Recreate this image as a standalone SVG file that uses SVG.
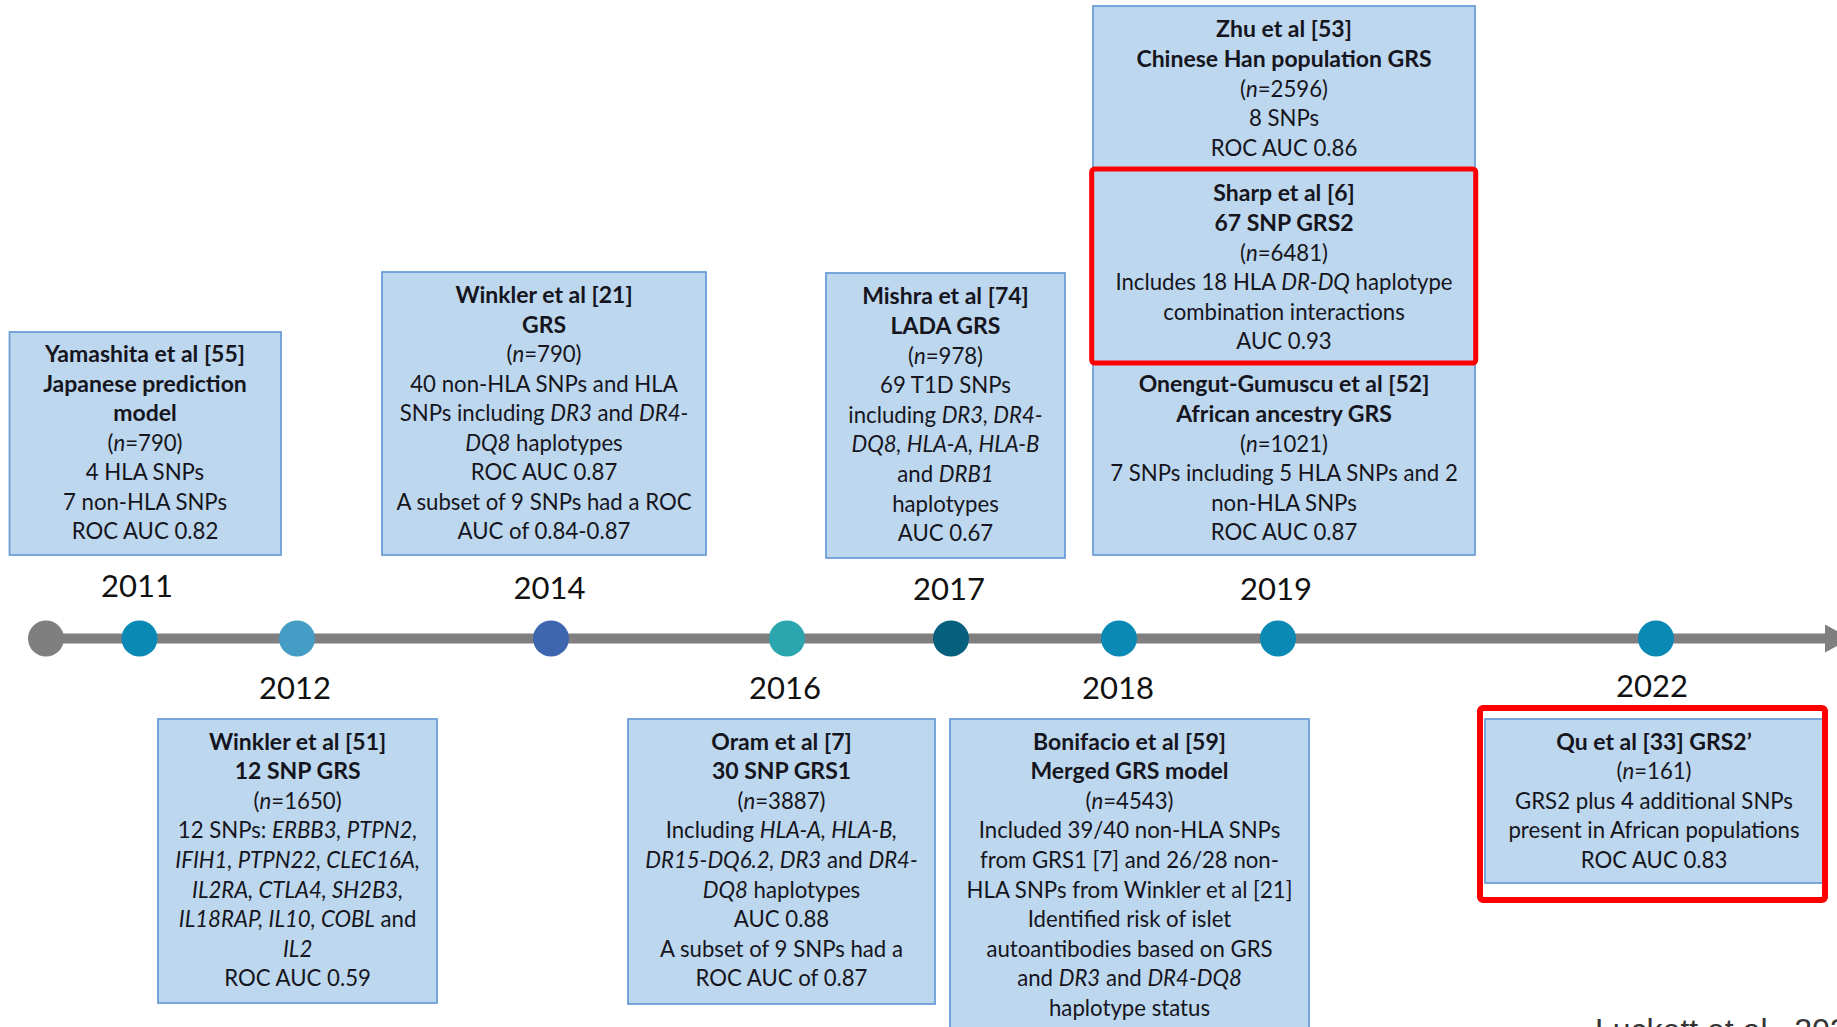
<svg xmlns="http://www.w3.org/2000/svg" width="1837" height="1027" viewBox="0 0 1837 1027">
<style>
.box{fill:#BDD7EE;stroke:#6D9ED6;stroke-width:1.8}
.hl{fill:none;stroke:#FF0000;stroke-width:6}
text{font-family:Lato,"Open Sans","Liberation Sans",sans-serif;font-size:22.2px;fill:#151520;text-anchor:middle}
.b{font-weight:bold;font-size:23px}
.i{font-style:italic}
.yr{font-size:31px;fill:#111}
.src{font-family:"Liberation Sans",Arial,sans-serif;font-size:32px;text-anchor:start;fill:#333}
.tl{stroke:#7F7F7F;stroke-width:10;fill:none}
</style>
<defs>
<marker id="arr" markerUnits="userSpaceOnUse" markerWidth="30" markerHeight="30" refX="0" refY="14" orient="auto" viewBox="0 0 30 30">
<path d="M0,0 L26,14 L0,28 Z" fill="#7F7F7F"/>
</marker>
</defs>

<g id="connectors">
<line class="tl" x1="46" y1="638.5" x2="1825" y2="638.5" marker-end="url(#arr)"/>
</g>

<g id="timeline-points">
<circle cx="46" cy="638.5" r="18" fill="#7F7F7F"/>
<circle cx="139.5" cy="638.5" r="18" fill="#0A89B4"/>
<circle cx="297" cy="638.5" r="18" fill="#459CC4"/>
<circle cx="551" cy="638.5" r="18" fill="#3E66AF"/>
<circle cx="787" cy="638.5" r="18" fill="#2BA6AF"/>
<circle cx="951" cy="638.5" r="18" fill="#075F7E"/>
<circle cx="1119" cy="638.5" r="18" fill="#0A89B4"/>
<circle cx="1278" cy="638.5" r="18" fill="#0A89B4"/>
<circle cx="1656" cy="638.5" r="18" fill="#0A89B4"/>
</g>

<g id="years">
<text class="yr" x="137" y="597">2011</text>
<text class="yr" x="295" y="699">2012</text>
<text class="yr" x="549.5" y="599">2014</text>
<text class="yr" x="785" y="699">2016</text>
<text class="yr" x="949" y="600">2017</text>
<text class="yr" x="1118" y="699">2018</text>
<text class="yr" x="1276" y="600">2019</text>
<text class="yr" x="1652" y="697">2022</text>
</g>

<g id="yamashita">
<rect class="box" x="9.5" y="332" width="271.5" height="223"/>
<text class="b" x="145" y="362">Yamashita et al [55]</text>
<text class="b" x="145" y="391.5">Japanese prediction</text>
<text class="b" x="145" y="421">model</text>
<text x="145" y="450.5">(<tspan class="i">n</tspan>=790)</text>
<text x="145" y="480">4 HLA SNPs</text>
<text x="145" y="509.5">7 non-HLA SNPs</text>
<text x="145" y="539">ROC AUC 0.82</text>
</g>

<g id="winkler21">
<rect class="box" x="382" y="272" width="324" height="283"/>
<text class="b" x="544" y="303">Winkler et al [21]</text>
<text class="b" x="544" y="332.5">GRS</text>
<text x="544" y="362">(<tspan class="i">n</tspan>=790)</text>
<text x="544" y="391.5">40 non-HLA SNPs and HLA</text>
<text x="544" y="421">SNPs including <tspan class="i">DR3</tspan> and <tspan class="i">DR4-</tspan></text>
<text x="544" y="450.5"><tspan class="i">DQ8</tspan> haplotypes</text>
<text x="544" y="480">ROC AUC 0.87</text>
<text x="544" y="509.5">A subset of 9 SNPs had a ROC</text>
<text x="544" y="539">AUC of 0.84-0.87</text>
</g>

<g id="mishra">
<rect class="box" x="826" y="273" width="239" height="285"/>
<text class="b" x="945.5" y="304.4">Mishra et al [74]</text>
<text class="b" x="945.5" y="334">LADA GRS</text>
<text x="945.5" y="363.6">(<tspan class="i">n</tspan>=978)</text>
<text x="945.5" y="393.2">69 T1D SNPs</text>
<text x="945.5" y="422.8">including <tspan class="i">DR3, DR4-</tspan></text>
<text x="945.5" y="452.4"><tspan class="i">DQ8, HLA-A, HLA-B</tspan></text>
<text x="945.5" y="482">and <tspan class="i">DRB1</tspan></text>
<text x="945.5" y="511.6">haplotypes</text>
<text x="945.5" y="541.2">AUC 0.67</text>
</g>

<g id="zhu">
<rect class="box" x="1093" y="6" width="382" height="164"/>
<text class="b" x="1284" y="37.3">Zhu et al [53]</text>
<text class="b" x="1284" y="66.9">Chinese Han population GRS</text>
<text x="1284" y="96.5">(<tspan class="i">n</tspan>=2596)</text>
<text x="1284" y="126.1">8 SNPs</text>
<text x="1284" y="155.7">ROC AUC 0.86</text>
</g>

<g id="onengut">
<rect class="box" x="1093" y="363" width="382" height="192"/>
<text class="b" x="1284" y="392.3">Onengut-Gumuscu et al [52]</text>
<text class="b" x="1284" y="421.9">African ancestry GRS</text>
<text x="1284" y="451.5">(<tspan class="i">n</tspan>=1021)</text>
<text x="1284" y="481.1">7 SNPs including 5 HLA SNPs and 2</text>
<text x="1284" y="510.7">non-HLA SNPs</text>
<text x="1284" y="540.3">ROC AUC 0.87</text>
</g>

<g id="sharp">
<rect class="box" x="1093" y="169" width="382" height="194"/>
<rect class="hl" x="1091.7" y="169" width="384" height="194" rx="3" style="stroke-width:5"/>
<text class="b" x="1284" y="201.3">Sharp et al [6]</text>
<text class="b" x="1284" y="230.9">67 SNP GRS2</text>
<text x="1284" y="260.5">(<tspan class="i">n</tspan>=6481)</text>
<text x="1284" y="290.1">Includes 18 HLA <tspan class="i">DR-DQ</tspan> haplotype</text>
<text x="1284" y="319.7">combination interactions</text>
<text x="1284" y="349.3">AUC 0.93</text>
</g>

<g id="winkler51">
<rect class="box" x="158" y="719" width="279" height="284"/>
<text class="b" x="297.6" y="749.6">Winkler et al [51]</text>
<text class="b" x="297.6" y="779.2">12 SNP GRS</text>
<text x="297.6" y="808.8">(<tspan class="i">n</tspan>=1650)</text>
<text x="297.6" y="838.4">12 SNPs: <tspan class="i">ERBB3, PTPN2,</tspan></text>
<text x="297.6" y="868" class="i">IFIH1, PTPN22, CLEC16A,</text>
<text x="297.6" y="897.6" class="i">IL2RA, CTLA4, SH2B3,</text>
<text x="297.6" y="927.2"><tspan class="i">IL18RAP, IL10, COBL</tspan> and</text>
<text x="297.6" y="956.8" class="i">IL2</text>
<text x="297.6" y="986.4">ROC AUC 0.59</text>
</g>

<g id="oram">
<rect class="box" x="628" y="719" width="307" height="285"/>
<text class="b" x="781.5" y="749.6">Oram et al [7]</text>
<text class="b" x="781.5" y="779.2">30 SNP GRS1</text>
<text x="781.5" y="808.8">(<tspan class="i">n</tspan>=3887)</text>
<text x="781.5" y="838.4">Including <tspan class="i">HLA-A, HLA-B,</tspan></text>
<text x="781.5" y="868"><tspan class="i">DR15-DQ6.2, DR3</tspan> and <tspan class="i">DR4-</tspan></text>
<text x="781.5" y="897.6"><tspan class="i">DQ8</tspan> haplotypes</text>
<text x="781.5" y="927.2">AUC 0.88</text>
<text x="781.5" y="956.8">A subset of 9 SNPs had a</text>
<text x="781.5" y="986.4">ROC AUC of 0.87</text>
</g>

<g id="bonifacio">
<rect class="box" x="950" y="719" width="359" height="330"/>
<text class="b" x="1129.5" y="749.6">Bonifacio et al [59]</text>
<text class="b" x="1129.5" y="779.2">Merged GRS model</text>
<text x="1129.5" y="808.8">(<tspan class="i">n</tspan>=4543)</text>
<text x="1129.5" y="838.4">Included 39/40 non-HLA SNPs</text>
<text x="1129.5" y="868">from GRS1 [7] and 26/28 non-</text>
<text x="1129.5" y="897.6">HLA SNPs from Winkler et al [21]</text>
<text x="1129.5" y="927.2">Identified risk of islet</text>
<text x="1129.5" y="956.8">autoantibodies based on GRS</text>
<text x="1129.5" y="986.4">and <tspan class="i">DR3</tspan> and <tspan class="i">DR4-DQ8</tspan></text>
<text x="1129.5" y="1016">haplotype status</text>
</g>

<g id="qu">
<rect class="box" x="1485" y="719" width="338" height="164"/>
<rect class="hl" x="1480" y="708" width="345" height="192" rx="3"/>
<text class="b" x="1654" y="749.6">Qu et al [33] GRS2’</text>
<text x="1654" y="779.2">(<tspan class="i">n</tspan>=161)</text>
<text x="1654" y="808.8">GRS2 plus 4 additional SNPs</text>
<text x="1654" y="838.4">present in African populations</text>
<text x="1654" y="868">ROC AUC 0.83</text>
</g>

<text class="src" x="1595" y="1041">Luckett et al., 2023</text>
</svg>
